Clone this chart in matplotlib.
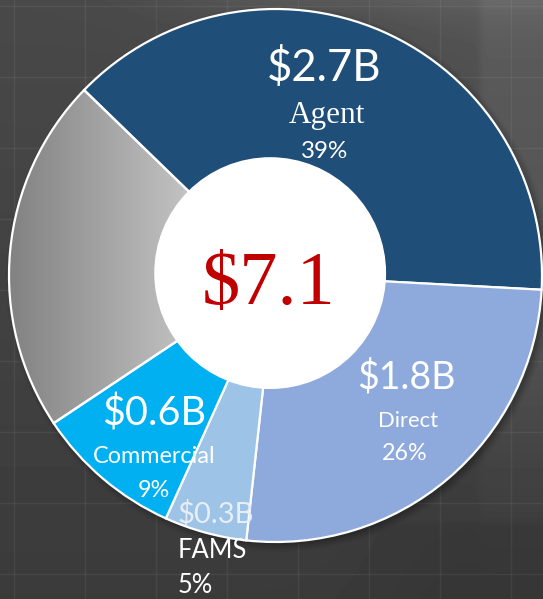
import numpy as np
import matplotlib
matplotlib.use("Agg")
import matplotlib.pyplot as plt
from matplotlib.patches import Circle
from matplotlib.colors import LinearSegmentedColormap

# ---- data ----
segments = ["Agent", "Direct", "FAMS", "Commercial", "Other"]
shares = [38.6, 25.9, 5.0, 8.9, 21.6]          # % of revenue (wedge sizes)
amount_labels = ["$2.7B", "$1.8B", "$0.3B", "$0.6B", ""]
pct_labels = ["39%", "26%", "5%", "9%", ""]
total_label = "$7.1"

# ---- style ----
colors = ["#1F4E79", "#8EA9DB", "#9DC3E6", "#00B0F0", "#A0A0A0"]
SANS = ["Lato", "DejaVu Sans"]
SERIF = ["Liberation Serif", "DejaVu Serif"]

W, H = 543, 599
fig = plt.figure(figsize=(W / 100, H / 100), dpi=100)

# background
bg = fig.add_axes([0, 0, 1, 1])
bg.set_xlim(0, W)
bg.set_ylim(H, 0)
bg.axis("off")
yy, xx = np.mgrid[0:H, 0:W].astype(float)
img = 0.285 - 0.055 * (yy / H)
sig = lambda z: 1 / (1 + np.exp(-z))
img += 0.07 * sig((xx - 480) / 2) * sig((430 - yy) / 40)
img += 0.035 * sig((xx - 400) / 30) * sig((480 - xx) / 2) * sig((300 - yy) / 60)
img += 0.06 * np.exp(-yy / 25) * sig((xx - 180) / 40)
img -= 0.02 * sig((yy - 522) / 2) * sig((xx - 380) / 30)
bg.imshow(img, cmap="gray", vmin=0, vmax=1, extent=(0, W, H, 0), aspect="auto",
          interpolation="bilinear")
for gx in range(14, W, 71):
    bg.axvline(gx, color="white", alpha=0.06, lw=1)
for gy in range(6, H, 71):
    bg.axhline(gy, color="white", alpha=0.06, lw=1)

# pie axes
pax = fig.add_axes([9 / W, (H - 542) / H, 533 / W, 533 / H])
# soft shadow
for k, a in enumerate([0.10, 0.08, 0.06, 0.04]):
    pax.add_patch(Circle((0.012, -0.012), 1.0 + 0.008 * k, fc="black", ec="none",
                         alpha=a, zorder=0.1, clip_on=False))
wedges, _ = pax.pie(shares, colors=colors, startangle=135.9, counterclock=False,
                    radius=1.0, wedgeprops=dict(edgecolor="white", linewidth=1.6))
for w in wedges:
    w.set_clip_on(False)

# gray gradient in last wedge
gmap = LinearSegmentedColormap.from_list("g", ["#828282", "#c3c3c3"])
gx = np.linspace(-1, 0, 256)
grad = np.clip((gx + 1) / 0.68, 0, 1)[None, :]
wedges[4].set_facecolor("none")
im = pax.imshow(grad, extent=(-1, 0, -1, 1), cmap=gmap, vmin=0, vmax=1,
                aspect="auto", zorder=0.9)
im.set_clip_path(wedges[4])

pax.add_patch(Circle((-0.02, 0.009), 0.435, fc="white", ec="none", zorder=3))
pax.set_xlim(-1, 1)
pax.set_ylim(-1, 1)
pax.set_aspect("auto")
pax.axis("off")

# text overlay
tx = fig.add_axes([0, 0, 1, 1])
tx.set_xlim(0, W)
tx.set_ylim(H, 0)
tx.axis("off")
tx.patch.set_alpha(0)

def t(x, y, s, size, fam=SANS, color="white", ha="center", alpha=1.0):
    tx.text(x, y, s, fontsize=size, family=fam, color=color, ha=ha, va="baseline",
            alpha=alpha)

# Agent
t(324, 80.7, amount_labels[0], 31.5)
t(327, 123.3, segments[0], 22.5, fam=SERIF)
t(325, 158.3, pct_labels[0], 17.4)
# Direct
t(406, 388.3, amount_labels[1], 27)
t(408, 426.7, segments[1], 15.8)
t(405, 460, pct_labels[1], 16.8)
# Commercial
t(154, 425, amount_labels[3], 28.5)
t(154, 463.3, segments[3], 16.8)
t(154, 496.7, pct_labels[3], 16.8)
# FAMS
t(178, 522.7, amount_labels[2], 21, ha="left", color="#E8EEF6")
t(178, 558.3, segments[2], 18.4, ha="left")
t(178, 593.3, pct_labels[2], 18.4, ha="left")
# total
t(268.5, 304, total_label, 55, fam=SERIF, color="#C00000")

fig.savefig("out.png", dpi=100)
